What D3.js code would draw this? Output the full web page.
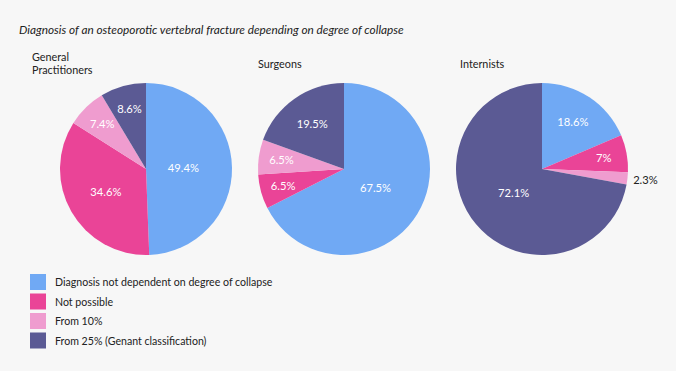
<!DOCTYPE html>
<html><head><meta charset="utf-8">
<script src="https://cdn.jsdelivr.net/npm/d3@7"></script>
<style>html,body{margin:0;padding:0;background:#f7f7f7;}svg{display:block;}</style>
</head><body>
<svg id="c" width="676" height="371"></svg>
<script>
const title = "Diagnosis of an osteoporotic vertebral fracture depending on degree of collapse";
const categories = ["Diagnosis not dependent on degree of collapse", "Not possible", "From 10%", "From 25% (Genant classification)"];
const groups = [["General", "Practitioners"], ["Surgeons"], ["Internists"]];
const gpValues = [49.4, 34.6, 7.4, 8.6];
const surgeonValues = [67.5, 6.5, 6.5, 19.5];
const internistValues = [18.6, 7, 2.3, 72.1];
const seriesValues = [gpValues, surgeonValues, internistValues];
const colors = ["#70a9f4", "#ea4497", "#ef9ccf", "#5b5a94"];

const svg = d3.select("#c");
const font = "Lato, 'Open Sans', sans-serif";
svg.append("rect").attr("width", 676).attr("height", 371).attr("fill", "#f7f7f7");

svg.append("text").attr("x", 19).attr("y", 34).attr("font-family", font)
  .attr("font-style", "italic").attr("font-size", 11.8).attr("fill", "#222").text(title);

const color = d3.scaleOrdinal().domain(categories).range(colors);
const cx = d3.scalePoint().domain([0, 1, 2]).range([146, 542]);
const R = 86, cy = 169;
const pie = d3.pie().sort(null).value(d => d.v);
const arc = d3.arc().innerRadius(0).outerRadius(R);

seriesValues.forEach((vals, gi) => {
  const g = svg.append("g").attr("transform", `translate(${cx(gi)},${cy})`);
  const data = pie(vals.map((v, i) => ({ v, cat: categories[i] })));
  g.selectAll("path").data(data).join("path")
    .attr("d", arc).attr("fill", d => color(d.data.cat));
  data.forEach(d => {
    const p = d.data.v / 100;
    const mid = (d.startAngle + d.endAngle) / 2;
    const outside = p < 0.04;
    const fr = outside ? 1.21 : Math.max(0.43, 0.78 - 0.7 * p);
    const x = Math.sin(mid) * R * fr, y = -Math.cos(mid) * R * fr;
    g.append("text").attr("x", x).attr("y", y + 4)
      .attr("text-anchor", "middle").attr("font-family", font).attr("font-size", 11.2)
      .attr("fill", outside ? "#222" : "#fff").text(d3.format("")(d.data.v) + "%");
  });
  const lx = [32, 258, 460][gi];
  const lines = groups[gi];
  const y0 = lines.length > 1 ? 61 : 68;
  lines.forEach((t, li) => {
    svg.append("text").attr("x", lx).attr("y", y0 + li * 13).attr("font-family", font)
      .attr("font-size", 10.8).attr("fill", "#222").text(t);
  });
});

const leg = svg.append("g");
categories.forEach((c, i) => {
  const y = 274 + i * 19.5;
  leg.append("rect").attr("x", 30).attr("y", y).attr("width", 16).attr("height", 16).attr("fill", color(c));
  leg.append("text").attr("x", 55).attr("y", y + 12).attr("font-family", font)
    .attr("font-size", 10.6).attr("fill", "#222").text(c);
});
</script>
</body></html>
